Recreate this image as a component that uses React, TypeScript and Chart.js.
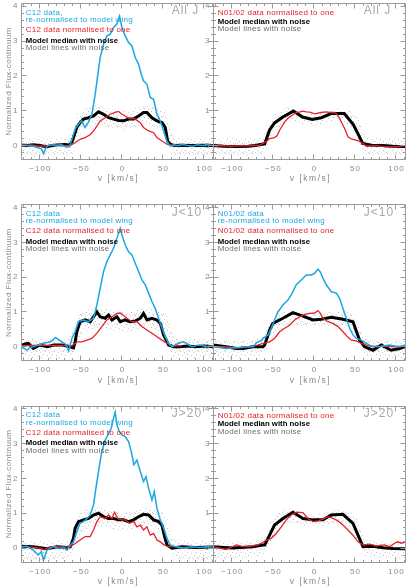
import React, { useEffect, useRef } from 'react';
import { Chart, registerables } from 'chart.js';

Chart.register(...registerables);

type Pt = [number, number];

// ---------- axes ----------
const X_MIN = -123;
const X_MAX = 111;
const Y_MIN = -0.4;
const Y_MAX = 4.08;
const xTickValues = [-100, -50, 0, 50, 100];
const xTickLabels = ['\u2212100', '\u221250', '0', '50', '100'];
const yTickValues = [0, 1, 2, 3, 4];
const yTickLabels = ['0', '1', '2', '3', '4'];

// velocity grid of the model-line cloud envelopes
const cloudV = [-123, -100, -80, -66, -60, -54, -45, -30, -15, 0, 15, 30, 45, 54, 60, 66, 80, 100, 111];

// ---------- All J, C12 ----------
const allC12Wing: Pt[] = [[-123, 0.02], [-116, 0.0], [-108, -0.02], [-102, -0.06], [-98, -0.1], [-95.5, -0.23], [-93, -0.08], [-90, 0.0], [-85, 0.02], [-79, 0.0], [-74, 0.03], [-70, -0.02], [-67, -0.05], [-64, -0.03], [-62, 0.1], [-60, 0.25], [-57, 0.47], [-53, 0.61], [-49, 0.71], [-45, 0.52], [-41, 0.66], [-36.6, 0.9], [-32.6, 1.47], [-29.3, 2.05], [-26.5, 2.53], [-22.4, 2.91], [-18.3, 3.15], [-14.3, 3.2], [-10.2, 3.39], [-6.1, 3.49], [-2.9, 3.72], [0, 3.39], [4, 3.15], [8.1, 2.96], [12.2, 2.86], [16.2, 2.53], [20.3, 2.34], [23.5, 2.05], [26.3, 1.86], [30.5, 1.76], [34.5, 1.38], [38.6, 1.33], [42.7, 0.9], [46.7, 0.71], [50.8, 0.42], [54.9, 0.13], [58.9, -0.01], [63, 0.02], [68, 0.0], [74, 0.03], [80, 0.0], [86, -0.02], [92, 0.02], [98, 0.0], [104, 0.02], [111, 0.0]];
const allC12One: Pt[] = [[-123, 0.0], [-110, 0.02], [-100, -0.02], [-90, 0.0], [-80, 0.02], [-70, 0.0], [-63, 0.0], [-57, 0.09], [-51, 0.18], [-45, 0.23], [-38.7, 0.31], [-34.6, 0.42], [-30.5, 0.56], [-26.5, 0.71], [-20.4, 0.8], [-14.3, 0.9], [-8.2, 0.95], [-4.1, 0.98], [0, 0.9], [4, 0.85], [7, 0.8], [10.2, 0.76], [13, 0.78], [16.2, 0.76], [22.4, 0.66], [26.3, 0.52], [32.5, 0.42], [38.6, 0.37], [42.7, 0.23], [48.8, 0.13], [54.9, 0.04], [61, 0.0], [71, 0.0]];
const allC12Median: Pt[] = [[-123, 0.02], [-115, 0.0], [-108, 0.02], [-100, 0.0], [-92, -0.03], [-85, 0.0], [-78, 0.02], [-70, 0.03], [-64, 0.02], [-61, 0.1], [-59, 0.23], [-55, 0.52], [-51, 0.66], [-46.8, 0.76], [-40.7, 0.8], [-34.6, 0.85], [-28.5, 0.97], [-22.4, 0.9], [-16.3, 0.8], [-10.2, 0.76], [-4.1, 0.72], [2, 0.71], [8.1, 0.76], [14.2, 0.76], [20.3, 0.85], [26.3, 0.95], [30.5, 0.95], [36.6, 0.8], [42.7, 0.71], [48.8, 0.66], [52.8, 0.52], [55.7, 0.13], [58.9, 0.04], [64, 0.0], [72, 0.01], [85, 0.0], [100, 0.01], [111, 0.0]];
const allC12CloudHi = [0.2, 0.2, 0.2, 0.22, 0.45, 0.9, 1.05, 1.18, 1.05, 0.98, 1.05, 1.18, 1.05, 0.95, 0.45, 0.22, 0.2, 0.2, 0.2];
const allC12CloudLo = [-0.32, -0.32, -0.3, -0.28, -0.22, 0.2, 0.5, 0.62, 0.5, 0.45, 0.5, 0.62, 0.5, 0.2, -0.22, -0.28, -0.3, -0.32, -0.32];

// ---------- All J, N01/02 ----------
const allN01One: Pt[] = [[-123, -0.01], [-110, 0.0], [-100, -0.02], [-90, 0.0], [-80, -0.01], [-66, 0.01], [-58, 0.12], [-54, 0.2], [-48, 0.23], [-45, 0.28], [-41.8, 0.44], [-35.7, 0.68], [-31, 0.8], [-26, 0.88], [-21.5, 0.95], [-17, 0.97], [-13.4, 0.99], [-9, 0.97], [-5, 0.96], [0.9, 0.91], [5, 0.93], [9, 0.95], [15, 0.97], [20, 0.95], [25, 0.95], [28, 0.9], [31.3, 0.78], [34, 0.65], [37.4, 0.49], [41.5, 0.25], [45.6, 0.19], [49, 0.17], [53.7, 0.14], [57, 0.1], [60, 0.06], [64, -0.02], [75, 0.0], [85, -0.03], [96, -0.04], [104, -0.02], [111, 0.0]];
const allN01Median: Pt[] = [[-123, 0.0], [-110, -0.02], [-95, -0.03], [-80, -0.02], [-72, 0.0], [-60, 0.05], [-54, 0.45], [-48, 0.65], [-37.8, 0.82], [-25, 0.99], [-14, 0.82], [-2, 0.75], [9, 0.8], [21, 0.92], [37, 0.92], [48, 0.6], [59.5, 0.06], [70, 0.01], [84, 0.0], [96, -0.02], [111, -0.03]];
const allN01CloudHi = [0.2, 0.2, 0.2, 0.22, 0.35, 0.7, 0.95, 1.12, 0.98, 0.9, 0.98, 1.08, 1.0, 0.8, 0.35, 0.22, 0.2, 0.2, 0.2];
const allN01CloudLo = [-0.3, -0.3, -0.28, -0.25, -0.2, 0.15, 0.45, 0.72, 0.62, 0.58, 0.62, 0.72, 0.55, 0.2, -0.2, -0.25, -0.28, -0.3, -0.3];

// ---------- J<10, C12 ----------
const lowC12Wing: Pt[] = [[-123, 0.0], [-119, -0.05], [-116, -0.1], [-112, -0.02], [-108, 0.0], [-102, 0.05], [-95.6, 0.1], [-91, 0.12], [-87, 0.15], [-84, 0.2], [-81, 0.27], [-77, 0.2], [-73, 0.14], [-69, 0.08], [-67, 0.0], [-65, -0.12], [-63, 0.05], [-61, 0.24], [-57, 0.43], [-53, 0.72], [-46.8, 0.77], [-40.7, 0.72], [-34.6, 0.82], [-30.5, 1.2], [-26.5, 1.68], [-22.4, 2.16], [-18.3, 2.45], [-14.3, 2.64], [-10.2, 2.83], [-6.1, 3.12], [-2, 3.4], [0, 3.21], [4, 2.93], [8.1, 2.73], [12.2, 2.64], [16.2, 2.4], [20.3, 2.16], [24.4, 1.92], [28.4, 1.78], [32.5, 1.54], [36.6, 1.3], [40.6, 1.1], [44.7, 0.82], [48.8, 0.53], [52.8, 0.29], [56.9, 0.1], [61, 0.0], [65, 0.05], [69, 0.1], [75, 0.14], [79, 0.1], [83, 0.03], [87, 0.0], [91, 0.04], [95, 0.05], [100, 0.02], [105, 0.0], [111, 0.03]];
const lowC12One: Pt[] = [[-123, 0.03], [-110, 0.04], [-100, 0.05], [-90, 0.04], [-81, 0.03], [-70, 0.04], [-61, 0.03], [-55, 0.14], [-49, 0.14], [-42.7, 0.19], [-36.6, 0.24], [-30.5, 0.39], [-24.4, 0.58], [-18.3, 0.77], [-12.2, 0.86], [-6.1, 0.96], [-2, 0.97], [2, 0.9], [6.1, 0.82], [12.2, 0.72], [18.3, 0.72], [24.4, 0.58], [30.5, 0.48], [36.6, 0.39], [42.7, 0.29], [48.8, 0.19], [54.9, 0.1], [61, 0.03], [73, 0.03]];
const lowC12Median: Pt[] = [[-123, 0.03], [-118, 0.08], [-114, 0.1], [-108, -0.05], [-100, 0.05], [-91, 0.0], [-83, 0.05], [-73, 0.05], [-63, 0.0], [-59, -0.03], [-57, 0.14], [-55, 0.43], [-51, 0.72], [-44.8, 0.77], [-38.7, 0.72], [-34.6, 0.86], [-30.5, 1.0], [-26.5, 0.86], [-20.4, 0.82], [-16.3, 0.91], [-12.2, 0.77], [-6.1, 0.86], [-2, 0.72], [4, 0.77], [10.2, 0.72], [16.2, 0.74], [22.4, 0.82], [26.3, 0.96], [30.5, 0.77], [36.6, 0.82], [42.7, 0.77], [46.8, 0.67], [50.8, 0.34], [56.9, 0.05], [63, 0.0], [70, 0.0], [80, 0.02], [90, 0.0], [100, 0.02], [111, 0.0]];
const lowC12CloudHi = [0.22, 0.22, 0.22, 0.22, 0.45, 0.9, 1.05, 1.15, 1.08, 1.0, 1.05, 1.15, 1.05, 0.95, 0.45, 0.22, 0.22, 0.22, 0.22];
const lowC12CloudLo = [-0.35, -0.35, -0.32, -0.3, -0.22, 0.18, 0.45, 0.55, 0.48, 0.42, 0.45, 0.55, 0.45, 0.18, -0.22, -0.3, -0.32, -0.35, -0.35];

// ---------- J<10, N01/02 ----------
const lowN01Wing: Pt[] = [[-123, 0.0], [-115, -0.02], [-107, -0.05], [-98, -0.03], [-90.6, -0.03], [-82, 0.0], [-74, 0.0], [-70, 0.12], [-64, 0.18], [-62, 0.24], [-56, 0.34], [-52, 0.53], [-48, 0.77], [-43.9, 1.0], [-37.8, 1.2], [-31.7, 1.34], [-27.6, 1.49], [-21.5, 1.78], [-15.4, 1.92], [-9.3, 2.06], [-3.2, 2.06], [0.9, 2.11], [4.9, 2.23], [7.8, 2.15], [11, 1.97], [15.1, 1.78], [21.2, 1.58], [27.3, 1.54], [31.3, 1.39], [35.4, 1.1], [39.5, 0.82], [43.5, 0.53], [47.6, 0.34], [51.7, 0.24], [57.8, 0.19], [63.9, 0.1], [70, 0.02], [80, 0.0], [86, 0.03], [92, 0.05], [98, 0.02], [104.5, 0.0], [111, 0.05]];
const lowN01One: Pt[] = [[-123, 0.0], [-110, 0.0], [-95, -0.03], [-85, 0.0], [-78, 0.0], [-70, 0.04], [-62, 0.1], [-54, 0.14], [-48, 0.24], [-41.8, 0.43], [-35.7, 0.53], [-29.6, 0.62], [-23.5, 0.77], [-17.4, 0.86], [-11.3, 0.93], [-5.2, 0.96], [0.9, 0.97], [4.9, 1.04], [7.8, 0.96], [11, 0.82], [17, 0.72], [23.2, 0.67], [29.3, 0.58], [35.4, 0.43], [41.5, 0.27], [45.6, 0.19], [51.7, 0.17], [57.8, 0.1], [63.9, 0.05], [72, 0.0], [85, 0.02], [100, 0.0], [111, 0.02]];
const lowN01Median: Pt[] = [[-123, 0.05], [-107, 0.0], [-94.6, -0.05], [-86.5, -0.05], [-74, 0.0], [-62, 0.0], [-60, 0.05], [-54, 0.48], [-50, 0.67], [-37.8, 0.82], [-25.6, 0.98], [-13.4, 0.88], [-1.2, 0.77], [9, 0.79], [21.2, 0.85], [35.4, 0.79], [47.6, 0.72], [55.7, 0.19], [61.8, 0.0], [72, -0.1], [82, 0.05], [94, -0.1], [104.5, -0.05], [111, 0.0]];
const lowN01CloudHi = [0.2, 0.2, 0.2, 0.22, 0.35, 0.7, 0.9, 1.1, 1.0, 0.95, 1.0, 1.05, 0.98, 0.8, 0.35, 0.22, 0.2, 0.2, 0.2];
const lowN01CloudLo = [-0.32, -0.32, -0.3, -0.28, -0.2, 0.12, 0.42, 0.65, 0.58, 0.55, 0.58, 0.62, 0.5, 0.18, -0.2, -0.28, -0.3, -0.32, -0.32];

// ---------- J>20, C12 ----------
const highC12Wing: Pt[] = [[-123, 0.04], [-116, 0.05], [-108, -0.06], [-102, -0.2], [-98, -0.1], [-95.6, -0.35], [-91.5, -0.06], [-87, 0.0], [-83, 0.04], [-79, 0.0], [-75, -0.01], [-71, 0.02], [-67, -0.06], [-63, 0.09], [-59, 0.18], [-55, 0.47], [-51, 0.71], [-46.8, 0.76], [-42.7, 0.85], [-38.7, 0.95], [-34.6, 1.24], [-31.7, 1.72], [-28.5, 2.2], [-25.2, 2.68], [-21.2, 3.06], [-17.1, 3.25], [-13, 3.44], [-10.2, 3.73], [-8.2, 3.9], [-6.1, 3.54], [-3.3, 3.35], [0, 3.25], [4, 3.2], [8.1, 3.06], [11.4, 2.77], [14.6, 2.39], [18.3, 2.53], [22.4, 2.2], [26.3, 1.91], [29.3, 2.05], [32.5, 1.72], [36.6, 1.38], [39.4, 1.62], [42.7, 1.14], [46.7, 0.81], [50.8, 0.57], [54.9, 0.28], [58.9, 0.09], [65, 0.04], [75, 0.0], [85, 0.04], [95, 0.02], [103, 0.04], [111, 0.03]];
const highC12One: Pt[] = [[-123, 0.04], [-110, 0.03], [-100, 0.0], [-95, -0.05], [-90, 0.02], [-80, 0.04], [-70, 0.03], [-63, 0.04], [-57, 0.13], [-51, 0.23], [-44.8, 0.33], [-38.7, 0.33], [-34.6, 0.52], [-30.5, 0.76], [-26.5, 0.9], [-20.4, 0.85], [-16.3, 0.95], [-12.2, 0.85], [-9, 1.03], [-5, 0.85], [-0.8, 0.81], [4, 0.81], [8.9, 0.71], [14.2, 0.76], [18.3, 0.61], [22.4, 0.66], [26.3, 0.52], [30.5, 0.61], [34.5, 0.37], [38.6, 0.42], [42.7, 0.23], [46.7, 0.18], [50.8, 0.1], [56.9, 0.04], [70, 0.04]];
const highC12Median: Pt[] = [[-123, 0.05], [-108, 0.04], [-91.5, -0.02], [-79, 0.04], [-67, 0.02], [-63, 0.04], [-59, 0.28], [-57, 0.57], [-53, 0.76], [-46.8, 0.81], [-40.7, 0.85], [-34.6, 0.95], [-28.5, 1.0], [-22.4, 0.9], [-16.3, 0.85], [-10.2, 0.85], [-4.1, 0.81], [2, 0.81], [8.1, 0.76], [14.2, 0.81], [20.3, 0.9], [26.3, 0.97], [32.5, 0.95], [38.6, 0.81], [44.7, 0.76], [48.8, 0.66], [52, 0.33], [54.9, 0.09], [61, 0.0], [73, 0.04], [90, 0.02], [111, 0.03]];
const highC12CloudHi = [0.2, 0.2, 0.2, 0.22, 0.45, 0.95, 1.08, 1.2, 1.08, 1.0, 1.08, 1.2, 1.08, 0.95, 0.45, 0.22, 0.2, 0.2, 0.2];
const highC12CloudLo = [-0.35, -0.35, -0.32, -0.3, -0.22, 0.2, 0.5, 0.62, 0.55, 0.5, 0.55, 0.62, 0.5, 0.2, -0.22, -0.3, -0.32, -0.35, -0.35];

// ---------- J>20, N01/02 ----------
const highN01One: Pt[] = [[-123, 0.04], [-115, 0.0], [-107, -0.04], [-100, 0.03], [-94.6, 0.09], [-88, 0.05], [-82, 0.04], [-75, 0.06], [-68, 0.09], [-64, 0.14], [-58, 0.23], [-52, 0.28], [-46, 0.42], [-39.8, 0.61], [-33.7, 0.81], [-27.6, 0.95], [-21.5, 1.03], [-13.4, 1.02], [-7.3, 0.85], [-1.2, 0.76], [4.9, 0.78], [11, 0.83], [17, 0.9], [23.2, 0.85], [29.3, 0.78], [35.4, 0.66], [41.5, 0.52], [47.6, 0.37], [53.7, 0.18], [59.8, 0.09], [68, 0.11], [76, 0.06], [86, 0.09], [92, 0.04], [98.4, 0.14], [102, 0.18], [106.5, 0.14], [111, 0.18]];
const highN01Median: Pt[] = [[-123, 0.04], [-99, 0.0], [-75, 0.04], [-62, 0.09], [-60, 0.09], [-54, 0.37], [-48, 0.66], [-37.8, 0.85], [-25.6, 1.03], [-13.4, 0.85], [-1.2, 0.81], [11, 0.81], [21.2, 0.95], [35.4, 0.97], [47.6, 0.71], [59.8, 0.04], [72, 0.05], [84, 0.01], [96, -0.01], [111, -0.02]];
const highN01CloudHi = [0.2, 0.2, 0.2, 0.22, 0.35, 0.72, 0.98, 1.15, 1.0, 0.95, 1.02, 1.12, 1.02, 0.8, 0.35, 0.22, 0.2, 0.2, 0.2];
const highN01CloudLo = [-0.3, -0.3, -0.28, -0.25, -0.2, 0.15, 0.5, 0.75, 0.65, 0.6, 0.65, 0.75, 0.55, 0.2, -0.2, -0.25, -0.28, -0.3, -0.3];

// ---------- styling / layout ----------
const PAGE_W = 408;
const PAGE_H = 586;
const COL_LEFT = [21, 213];
const PLOT_W = 192;
const ROW_TOP = [3.5, 204.7, 406];
const PLOT_H = 156;

const BLUE = '#1ba6e3';
const RED = '#e3222a';
const AXIS = '#9b9b9b';
const LABEL = '#8a8a8a';
const TAG = '#a8a8a8';
const FONT = '"Liberation Sans", Arial, sans-serif';

interface LegendLine { text: string; color: string; bold?: boolean; }
interface PanelSpec {
  col: number;
  row: number;
  tag: string;
  wing?: Pt[];
  one: Pt[];
  median: Pt[];
  cloudHi: number[];
  cloudLo: number[];
  legend: LegendLine[];
}

const medianLine: LegendLine = { text: 'Model median with noise', color: '#000', bold: true };
const cloudLine: LegendLine = { text: 'Model lines with noise', color: '#6e6e6e' };

const panels: PanelSpec[] = [
  {
    col: 0, row: 0, tag: 'All J', wing: allC12Wing, one: allC12One, median: allC12Median,
    cloudHi: allC12CloudHi, cloudLo: allC12CloudLo,
    legend: [
      { text: 'C12 data,', color: BLUE },
      { text: 're-normalised to model wing', color: BLUE },
      { text: 'C12 data normalised to one', color: RED },
      medianLine, cloudLine,
    ],
  },
  {
    col: 1, row: 0, tag: 'All J', one: allN01One, median: allN01Median,
    cloudHi: allN01CloudHi, cloudLo: allN01CloudLo,
    legend: [{ text: 'N01/02 data normalised to one', color: RED }, medianLine, cloudLine],
  },
  {
    col: 0, row: 1, tag: 'J<10', wing: lowC12Wing, one: lowC12One, median: lowC12Median,
    cloudHi: lowC12CloudHi, cloudLo: lowC12CloudLo,
    legend: [
      { text: 'C12 data', color: BLUE },
      { text: 're-normalised to model wing', color: BLUE },
      { text: 'C12 data normalised to one', color: RED },
      medianLine, cloudLine,
    ],
  },
  {
    col: 1, row: 1, tag: 'J<10', wing: lowN01Wing, one: lowN01One, median: lowN01Median,
    cloudHi: lowN01CloudHi, cloudLo: lowN01CloudLo,
    legend: [
      { text: 'N01/02 data', color: BLUE },
      { text: 're-normalised to model wing', color: BLUE },
      { text: 'N01/02 data normalised to one', color: RED },
      medianLine, cloudLine,
    ],
  },
  {
    col: 0, row: 2, tag: 'J>20', wing: highC12Wing, one: highC12One, median: highC12Median,
    cloudHi: highC12CloudHi, cloudLo: highC12CloudLo,
    legend: [
      { text: 'C12 data', color: BLUE },
      { text: 're-normalised to model wing', color: BLUE },
      { text: 'C12 data normalised to one', color: RED },
      medianLine, cloudLine,
    ],
  },
  {
    col: 1, row: 2, tag: 'J>20', one: highN01One, median: highN01Median,
    cloudHi: highN01CloudHi, cloudLo: highN01CloudLo,
    legend: [{ text: 'N01/02 data normalised to one', color: RED }, medianLine, cloudLine],
  },
];

// line offsets (from the top of the frame) of the legend rows
const LEGEND_Y5 = [9, 16.3, 26.5, 37.3, 44.5];
const LEGEND_Y3 = [9.4, 18.2, 25.3];

const toXY = (pts: Pt[]) => pts.map(([x, y]) => ({ x, y }));

// sparse light stipple used to fill the model-line cloud
function speckle(): CanvasPattern | string {
  const tile = document.createElement('canvas');
  tile.width = 9;
  tile.height = 9;
  const t = tile.getContext('2d');
  if (!t) return 'rgba(120,120,120,0.1)';
  const dots = [[0, 0, 0.4], [4, 1, 0.25], [7, 3, 0.35], [2, 4, 0.3], [5, 6, 0.4], [1, 7, 0.2], [8, 8, 0.3], [6, 0, 0.2], [3, 8, 0.25]];
  dots.forEach(([a, b, o]) => {
    t.fillStyle = `rgba(80,80,80,${o})`;
    t.fillRect(a, b, 1, 1);
  });
  return t.createPattern(tile, 'repeat') || 'rgba(120,120,120,0.1)';
}

function makeFramePlugin(p: PanelSpec) {
  return {
    id: 'idlFrame',
    afterDatasetsDraw(chart: Chart) {
      const { ctx, chartArea: a } = chart;
      const xs = chart.scales.x;
      const ys = chart.scales.y;
      const snap = (v: number) => Math.floor(v) + 0.5;
      const L = snap(a.left), R = snap(a.right), T = snap(a.top), B = snap(a.bottom);
      ctx.save();
      ctx.strokeStyle = AXIS;
      ctx.lineWidth = 1;
      ctx.beginPath();
      ctx.rect(L, T, R - L, B - T);
      // x ticks every 10 km/s, majors every 50
      for (let v = -120; v <= 110; v += 10) {
        const px = snap(xs.getPixelForValue(v));
        const len = v % 50 === 0 ? 5 : 2.5;
        ctx.moveTo(px, B); ctx.lineTo(px, B - len);
        ctx.moveTo(px, T); ctx.lineTo(px, T + len);
      }
      // y ticks every 0.2, majors every 1
      for (let k = -2; k <= 20; k++) {
        const py = snap(ys.getPixelForValue(k * 0.2));
        const len = k % 5 === 0 ? 5 : 2.5;
        ctx.moveTo(L, py); ctx.lineTo(L + len, py);
        ctx.moveTo(R, py); ctx.lineTo(R - len, py);
      }
      ctx.stroke();

      ctx.fillStyle = LABEL;
      ctx.font = `8px ${FONT}`;
      (ctx as any).letterSpacing = '1px';
      ctx.textAlign = 'center';
      ctx.textBaseline = 'middle';
      xTickValues.forEach((v, i) => {
        ctx.fillText(xTickLabels[i], xs.getPixelForValue(v) + 0.5, a.bottom + 9.5);
      });
      ctx.textAlign = 'right';
      yTickValues.forEach((v, i) => {
        ctx.fillText(yTickLabels[i], a.left - 2.5, ys.getPixelForValue(v));
      });
      ctx.textAlign = 'center';
      ctx.font = `8.5px ${FONT}`;
      (ctx as any).letterSpacing = '1.5px';
      ctx.fillText('v [km/s]', (a.left + a.right) / 2 + 1.5, a.bottom + 19.5);

      if (p.col === 0) {
        ctx.save();
        ctx.translate(8.5, (a.top + a.bottom) / 2);
        ctx.rotate(-Math.PI / 2);
        ctx.font = `8px ${FONT}`;
        (ctx as any).letterSpacing = '0.45px';
        ctx.fillText('Normalized Flux-continuum', 0, 0);
        ctx.restore();
      }

      // panel tag
      ctx.textAlign = 'left';
      ctx.fillStyle = TAG;
      ctx.font = `12px ${FONT}`;
      (ctx as any).letterSpacing = '1px';
      ctx.fillText(p.tag, a.left + 150.7, a.top + 7.5);

      // legend
      const ys5 = p.legend.length === 5 ? LEGEND_Y5 : LEGEND_Y3;
      p.legend.forEach((line, i) => {
        ctx.fillStyle = line.color;
        ctx.font = `${line.bold ? 'bold 7.8px' : '8px'} ${FONT}`;
        (ctx as any).letterSpacing = line.bold ? '0px' : '0.25px';
        ctx.fillText(line.text, a.left + 4.7, a.top + ys5[i]);
      });
      ctx.restore();
    },
  };
}

function Panel({ spec }: { spec: PanelSpec }) {
  const ref = useRef<HTMLCanvasElement>(null);
  useEffect(() => {
    const canvas = ref.current;
    if (!canvas) return;
    const left = COL_LEFT[spec.col];
    const top = ROW_TOP[spec.row];
    const fillPattern = speckle();
    const cloudHi = cloudV.map((v, i) => ({ x: v, y: spec.cloudHi[i] }));
    const cloudLo = cloudV.map((v, i) => ({ x: v, y: spec.cloudLo[i] }));
    const base = { pointRadius: 0, tension: 0, fill: false as const };
    const datasets: any[] = [];
    if (spec.wing) {
      datasets.push({ ...base, label: 'wing', data: toXY(spec.wing), borderColor: BLUE, borderWidth: 1.5, order: 1 });
    }
    datasets.push({ ...base, label: 'one', data: toXY(spec.one), borderColor: RED, borderWidth: 1.3, order: 2 });
    datasets.push({ ...base, label: 'median', data: toXY(spec.median), borderColor: '#000', borderWidth: 3, order: 3 });
    datasets.push({ ...base, label: 'cloudHi', data: cloudHi, borderWidth: 0, borderColor: 'rgba(0,0,0,0)', fill: '+1', backgroundColor: fillPattern, order: 10 });
    datasets.push({ ...base, label: 'cloudLo', data: cloudLo, borderWidth: 0, borderColor: 'rgba(0,0,0,0)', order: 11 });

    const chart = new Chart(canvas, {
      type: 'line',
      data: { datasets },
      options: {
        animation: false,
        responsive: false,
        maintainAspectRatio: false,
        devicePixelRatio: 1,
        layout: {
          padding: {
            left,
            top,
            right: PAGE_W - (left + PLOT_W),
            bottom: PAGE_H - (top + PLOT_H),
          },
        },
        scales: {
          x: { type: 'linear', min: X_MIN, max: X_MAX, display: false },
          y: { type: 'linear', min: Y_MIN, max: Y_MAX, display: false },
        },
        plugins: { legend: { display: false }, tooltip: { enabled: false } },
        events: [],
      },
      plugins: [makeFramePlugin(spec)],
    });
    return () => chart.destroy();
  }, [spec]);
  return (
    <canvas
      ref={ref}
      width={PAGE_W}
      height={PAGE_H}
      style={{ position: 'absolute', left: 0, top: 0, width: PAGE_W, height: PAGE_H }}
    />
  );
}

export default function App() {
  return (
    <div style={{ position: 'fixed', left: 0, top: 0, width: PAGE_W, height: PAGE_H, background: '#fff' }}>
      {panels.map((p, i) => (
        <Panel key={i} spec={p} />
      ))}
    </div>
  );
}
